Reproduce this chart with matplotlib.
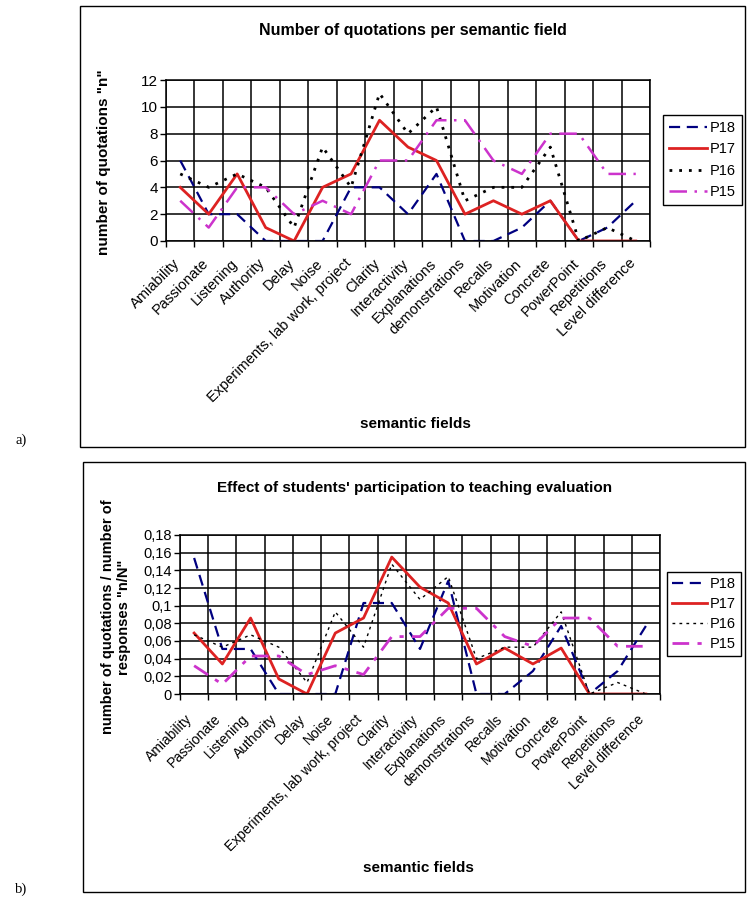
import matplotlib
matplotlib.use("Agg")
import matplotlib.pyplot as plt
import matplotlib.transforms as mtransforms
from matplotlib.patches import Rectangle

plt.rcParams['font.family'] = ['Liberation Sans', 'DejaVu Sans']

# categories (semantic fields)
fields = ['Amiability', 'Passionate', 'Listening', 'Authority', 'Delay', 'Noise',
          'Experiments, lab work, project', 'Clarity', 'Interactivity', 'Explanations',
          'demonstrations', 'Recalls', 'Motivation', 'Concrete', 'PowerPoint',
          'Repetitions', 'Level difference']

# a) number of quotations "n"
n_p18 = [6, 2, 2, 0, 0, 0, 4, 4, 2, 5, 0, 0, 1, 3, 0, 1, 3]
n_p17 = [4, 2, 5, 1, 0, 4, 5, 9, 7, 6, 2, 3, 2, 3, 0, 0, 0]
n_p16 = [5, 4, 5, 4, 1, 7, 4, 11, 8, 10, 3, 4, 4, 7, 0, 1, 0]
n_p15 = [3, 1, 4, 4, 2, 3, 2, 6, 6, 9, 9, 6, 5, 8, 8, 5, 5]

# b) n/N
r_p18 = [0.154, 0.051, 0.051, 0, 0, 0, 0.103, 0.103, 0.051, 0.128, 0, 0, 0.026, 0.077, 0, 0.026, 0.077]
r_p17 = [0.069, 0.034, 0.086, 0.017, 0, 0.069, 0.086, 0.155, 0.121, 0.103, 0.034, 0.052, 0.034, 0.052, 0, 0, 0]
r_p16 = [0.067, 0.053, 0.067, 0.053, 0.013, 0.093, 0.053, 0.147, 0.107, 0.133, 0.04, 0.053, 0.053, 0.093, 0, 0.013, 0]
r_p15 = [0.032, 0.011, 0.043, 0.043, 0.022, 0.032, 0.022, 0.065, 0.065, 0.097, 0.097, 0.065, 0.054, 0.086, 0.086, 0.054, 0.054]

a_ticks = [0, 2, 4, 6, 8, 10, 12]
b_ticks = [0, 0.02, 0.04, 0.06, 0.08, 0.1, 0.12, 0.14, 0.16, 0.18]
b_ticklabels = ['0', '0,02', '0,04', '0,06', '0,08', '0,1', '0,12', '0,14', '0,16', '0,18']

W, H = 748, 902
fig = plt.figure(figsize=(W / 100, H / 100), dpi=100)


def px_axes(left, top, right, bottom):
    return fig.add_axes([left / W, 1 - bottom / H, (right - left) / W, (bottom - top) / H])


def style_axes(ax, ymax, yticks, ytlabels, xfs, yfs, pad):
    x = list(range(len(fields)))
    ax.set_xlim(-0.5, len(fields) - 0.5)
    ax.set_ylim(0, ymax)
    ax.set_xticks(x)
    ax.set_xticklabels(fields, rotation=45, ha='right', rotation_mode='anchor', fontsize=xfs)
    ax.set_xticks([i - 0.5 for i in range(len(fields) + 1)], minor=True)
    ax.tick_params(axis='x', which='major', length=0, pad=pad)
    ax.tick_params(axis='x', which='minor', length=4, direction='out', width=1)
    ax.set_yticks(yticks)
    ax.set_yticklabels(ytlabels, fontsize=yfs)
    ax.tick_params(axis='y', length=4, direction='out', width=1, pad=2)
    ax.grid(True, which='minor', axis='x', color='black', linewidth=1.1)
    ax.grid(True, which='major', axis='y', color='black', linewidth=1.1)
    ax.set_axisbelow(True)
    for s in ax.spines.values():
        s.set_color('black')
        s.set_linewidth(1.1)


def shift_labels(ax, dx):
    off = mtransforms.ScaledTranslation(dx / 100, 0, fig.dpi_scale_trans)
    for lab in ax.get_xticklabels():
        lab.set_transform(lab.get_transform() + off)


# panel frames
fig.patches.append(Rectangle((80 / W, 1 - 447 / H), 665 / W, 441 / H, transform=fig.transFigure,
                             fill=False, edgecolor='black', linewidth=1))
fig.patches.append(Rectangle((83 / W, 1 - 892 / H), 662 / W, 430 / H, transform=fig.transFigure,
                             fill=False, edgecolor='black', linewidth=1))

x = list(range(len(fields)))

# ---- chart a
ax1 = px_axes(166, 80, 650, 241)
ax1.plot(x, n_p18, color='#000080', linewidth=1.6, dashes=(5, 3), label='P18')
ax1.plot(x, n_p17, color='#DD2222', linewidth=2.0, label='P17')
ax1.plot(x, n_p16, color='black', linewidth=2.0, dashes=(1, 2.5), label='P16')
ax1.plot(x, n_p15, color='#CC33CC', linewidth=1.8, dashes=(7, 3, 1, 3), label='P15')
style_axes(ax1, 12, a_ticks, [str(t) for t in a_ticks], 10.5, 11, 11)
fig.text(413 / W, 1 - 31 / H, 'Number of quotations per semantic field', ha='center', va='center',
         fontsize=11.5, fontweight='bold')
fig.text(104 / W, 1 - 162 / H, 'number of quotations "n"', rotation=90, ha='center', va='center',
         fontsize=11, fontweight='bold')
fig.text(415 / W, 1 - 424 / H, 'semantic fields', ha='center', va='center', fontsize=11, fontweight='bold')
leg1 = ax1.legend(loc='center left', bbox_to_anchor=(663 / W, 1 - 160 / H), bbox_transform=fig.transFigure,
                  fancybox=False, edgecolor='black', fontsize=10.5, handlelength=2.6, handletextpad=0.2,
                  borderaxespad=0, labelspacing=0.5, borderpad=0.4, framealpha=1)
leg1.get_frame().set_linewidth(1)

# ---- chart b
ax2 = px_axes(180, 535, 660, 694)
ax2.plot(x, r_p18, color='#000080', linewidth=1.6, dashes=(5, 3), label='P18')
ax2.plot(x, r_p17, color='#DD2222', linewidth=2.0, label='P17')
ax2.plot(x, r_p16, color='black', linewidth=1.0, dashes=(2, 3), label='P16')
ax2.plot(x, r_p15, color='#CC33CC', linewidth=2.0, dashes=(6, 3, 1.5, 3), label='P15')
style_axes(ax2, 0.18, b_ticks, b_ticklabels, 10, 10.5, 13)
fig.text(415 / W, 1 - 488 / H, "Effect of students' participation to teaching evaluation", ha='center',
         va='center', fontsize=11, fontweight='bold')
fig.text(116 / W, 1 - 617 / H, 'number of quotations / number of\nresponses "n/N"', rotation=90,
         ha='center', va='center', fontsize=10.5, fontweight='bold', linespacing=1.15)
fig.text(418 / W, 1 - 868 / H, 'semantic fields', ha='center', va='center', fontsize=11, fontweight='bold')
leg2 = ax2.legend(loc='center left', bbox_to_anchor=(667 / W, 1 - 614 / H), bbox_transform=fig.transFigure,
                  fancybox=False, edgecolor='black', fontsize=10.5, handlelength=2.4, handletextpad=0.2,
                  borderaxespad=0, labelspacing=0.4, borderpad=0.35, framealpha=1)
leg2.get_frame().set_linewidth(1)

# panel letters
fig.text(15 / W, 1 - 440 / H, 'a)', family='Liberation Serif', fontsize=10.5, va='center')
fig.text(15 / W, 1 - 889 / H, 'b)', family='Liberation Serif', fontsize=10.5, va='center')

# nudge rotated category labels left, as in the original chart
fig.canvas.draw()
shift_labels(ax1, -7)
shift_labels(ax2, -9)

fig.savefig('out.png', dpi=100)
